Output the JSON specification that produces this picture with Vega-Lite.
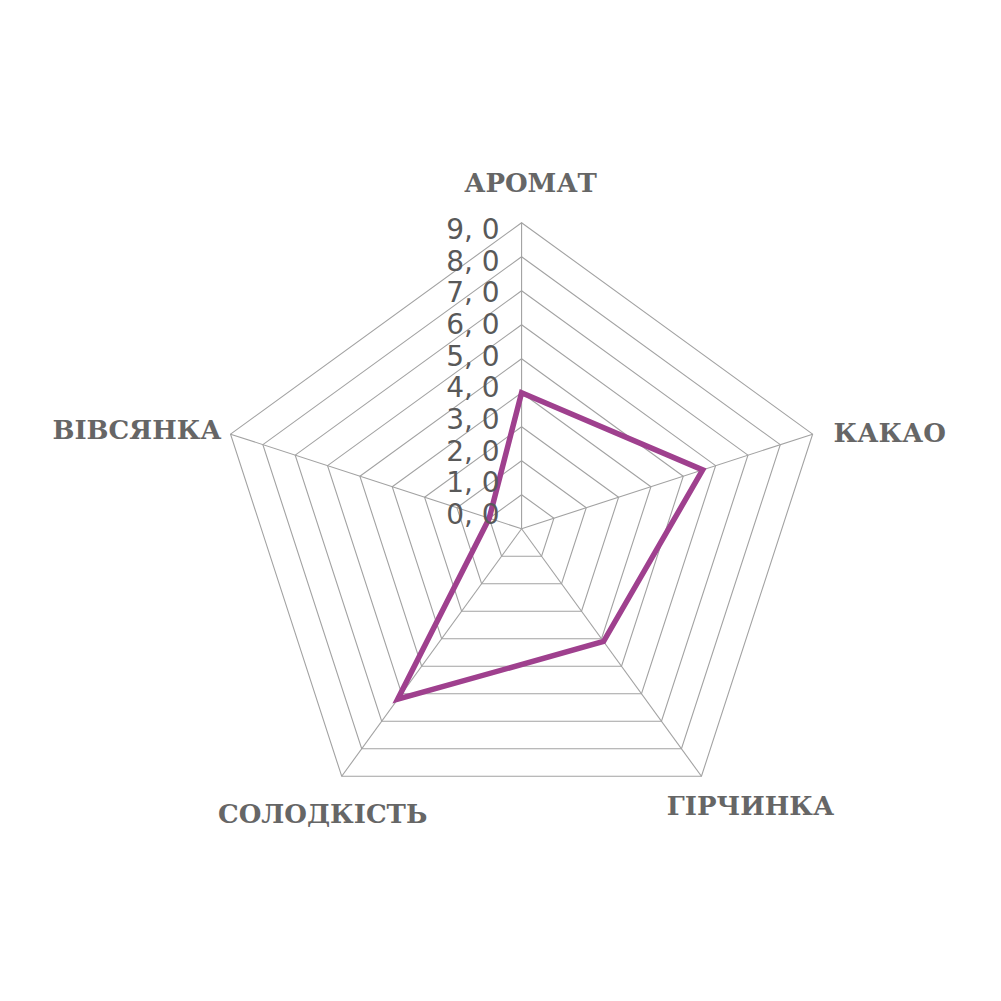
{
  "$schema": "https://vega.github.io/schema/vega-lite/v6.json",
  "width": 1001,
  "height": 1001,
  "autosize": {"type": "fit", "contains": "padding"},
  "padding": 0,
  "background": "white",
  "config": {"view": {"stroke": null}},
  "datasets": {
    "scores": [
      {"name": "АРОМАТ", "k": 0, "value": 4.0},
      {"name": "КАКАО", "k": 1, "value": 5.6},
      {"name": "ГІРЧИНКА", "k": 2, "value": 4.1},
      {"name": "СОЛОДКІСТЬ", "k": 3, "value": 6.2},
      {"name": "ВІВСЯНКА", "k": 4, "value": 1.0}
    ],
    "grid": [
      {"level": 1, "k": [0, 1, 2, 3, 4]},
      {"level": 2, "k": [0, 1, 2, 3, 4]},
      {"level": 3, "k": [0, 1, 2, 3, 4]},
      {"level": 4, "k": [0, 1, 2, 3, 4]},
      {"level": 5, "k": [0, 1, 2, 3, 4]},
      {"level": 6, "k": [0, 1, 2, 3, 4]},
      {"level": 7, "k": [0, 1, 2, 3, 4]},
      {"level": 8, "k": [0, 1, 2, 3, 4]},
      {"level": 9, "k": [0, 1, 2, 3, 4]}
    ],
    "spokes": [
      {"k": 0, "r": [0, 9]},
      {"k": 1, "r": [0, 9]},
      {"k": 2, "r": [0, 9]},
      {"k": 3, "r": [0, 9]},
      {"k": 4, "r": [0, 9]}
    ],
    "ticks": [
      {"level": 0, "label": "0, 0"},
      {"level": 1, "label": "1, 0"},
      {"level": 2, "label": "2, 0"},
      {"level": 3, "label": "3, 0"},
      {"level": 4, "label": "4, 0"},
      {"level": 5, "label": "5, 0"},
      {"level": 6, "label": "6, 0"},
      {"level": 7, "label": "7, 0"},
      {"level": 8, "label": "8, 0"},
      {"level": 9, "label": "9, 0"}
    ]
  },
  "resolve": {"scale": {"y": "independent"}},
  "layer": [
    {
      "layer": [
        {
          "data": {"name": "grid"},
          "transform": [
            {"flatten": ["k"]},
            {"calculate": "datum.level*sin(datum.k*2*PI/5)", "as": "px"},
            {"calculate": "datum.level*cos(datum.k*2*PI/5)", "as": "py"}
          ],
          "mark": {"type": "line", "interpolate": "linear-closed", "stroke": "#a2a2a2", "strokeWidth": 1.1},
          "encoding": {
            "x": {"field": "px", "type": "quantitative", "scale": {"domain": [-15.34, 14.1], "nice": false, "zero": false}, "axis": null},
            "y": {"field": "py", "type": "quantitative", "scale": {"domain": [-13.89, 15.55], "nice": false, "zero": false}, "axis": null},
            "detail": {"field": "level", "type": "nominal"},
            "order": {"field": "k", "type": "quantitative"}
          }
        },
        {
          "data": {"name": "spokes"},
          "transform": [
            {"flatten": ["r"]},
            {"calculate": "datum.r*sin(datum.k*2*PI/5)", "as": "px"},
            {"calculate": "datum.r*cos(datum.k*2*PI/5)", "as": "py"}
          ],
          "mark": {"type": "line", "stroke": "#a2a2a2", "strokeWidth": 1.1},
          "encoding": {
            "x": {"field": "px", "type": "quantitative"},
            "y": {"field": "py", "type": "quantitative"},
            "detail": {"field": "k", "type": "nominal"},
            "order": {"field": "r", "type": "quantitative"}
          }
        },
        {
          "data": {"name": "scores"},
          "transform": [
            {"calculate": "datum.value*sin(datum.k*2*PI/5)", "as": "px"},
            {"calculate": "datum.value*cos(datum.k*2*PI/5)", "as": "py"}
          ],
          "mark": {"type": "line", "interpolate": "linear-closed", "stroke": "#9f408e", "strokeJoin": "miter"},
          "encoding": {
            "x": {"field": "px", "type": "quantitative"},
            "y": {"field": "py", "type": "quantitative"},
            "order": {"field": "k", "type": "quantitative"},
            "strokeWidth": {"value": 5.5}
          }
        },
        {
          "data": {"name": "scores"},
          "transform": [
            {"filter": "datum.name == 'АРОМАТ'"},
            {"calculate": "9*sin(datum.k*2*PI/5)", "as": "vx"},
            {"calculate": "9*cos(datum.k*2*PI/5)", "as": "vy"}
          ],
          "mark": {"type": "text", "font": "DejaVu Serif", "fontWeight": "bold", "fontSize": 26, "fill": "#666666", "align": "center", "baseline": "middle", "dx": 9, "dy": -39},
          "encoding": {
            "x": {"field": "vx", "type": "quantitative"},
            "y": {"field": "vy", "type": "quantitative"},
            "text": {"field": "name", "type": "nominal"}
          }
        },
        {
          "data": {"name": "scores"},
          "transform": [
            {"filter": "datum.name == 'КАКАО'"},
            {"calculate": "9*sin(datum.k*2*PI/5)", "as": "vx"},
            {"calculate": "9*cos(datum.k*2*PI/5)", "as": "vy"}
          ],
          "mark": {"type": "text", "font": "DejaVu Serif", "fontWeight": "bold", "fontSize": 26, "fill": "#666666", "align": "left", "baseline": "middle", "dx": 21, "dy": 0},
          "encoding": {
            "x": {"field": "vx", "type": "quantitative"},
            "y": {"field": "vy", "type": "quantitative"},
            "text": {"field": "name", "type": "nominal"}
          }
        },
        {
          "data": {"name": "scores"},
          "transform": [
            {"filter": "datum.name == 'ГІРЧИНКА'"},
            {"calculate": "9*sin(datum.k*2*PI/5)", "as": "vx"},
            {"calculate": "9*cos(datum.k*2*PI/5)", "as": "vy"}
          ],
          "mark": {"type": "text", "font": "DejaVu Serif", "fontWeight": "bold", "fontSize": 26, "fill": "#666666", "align": "center", "baseline": "middle", "dx": 49, "dy": 31},
          "encoding": {
            "x": {"field": "vx", "type": "quantitative"},
            "y": {"field": "vy", "type": "quantitative"},
            "text": {"field": "name", "type": "nominal"}
          }
        },
        {
          "data": {"name": "scores"},
          "transform": [
            {"filter": "datum.name == 'СОЛОДКІСТЬ'"},
            {"calculate": "9*sin(datum.k*2*PI/5)", "as": "vx"},
            {"calculate": "9*cos(datum.k*2*PI/5)", "as": "vy"}
          ],
          "mark": {"type": "text", "font": "DejaVu Serif", "fontWeight": "bold", "fontSize": 26, "fill": "#666666", "align": "center", "baseline": "middle", "dx": -19, "dy": 39},
          "encoding": {
            "x": {"field": "vx", "type": "quantitative"},
            "y": {"field": "vy", "type": "quantitative"},
            "text": {"field": "name", "type": "nominal"}
          }
        },
        {
          "data": {"name": "scores"},
          "transform": [
            {"filter": "datum.name == 'ВІВСЯНКА'"},
            {"calculate": "9*sin(datum.k*2*PI/5)", "as": "vx"},
            {"calculate": "9*cos(datum.k*2*PI/5)", "as": "vy"}
          ],
          "mark": {"type": "text", "font": "DejaVu Serif", "fontWeight": "bold", "fontSize": 26, "fill": "#666666", "align": "right", "baseline": "middle", "dx": -9, "dy": -3},
          "encoding": {
            "x": {"field": "vx", "type": "quantitative"},
            "y": {"field": "vy", "type": "quantitative"},
            "text": {"field": "name", "type": "nominal"}
          }
        }
      ]
    },
    {
      "data": {"name": "ticks"},
      "transform": [
        {"calculate": "0", "as": "zx"}
      ],
      "mark": {"type": "text", "font": "DejaVu Sans", "fontSize": 28, "fill": "#595959", "align": "right", "baseline": "middle", "dx": -22},
      "encoding": {
        "x": {"field": "zx", "type": "quantitative"},
        "y": {"field": "level", "type": "quantitative", "scale": {"domain": [-15.32, 16.29], "nice": false, "zero": false}, "axis": null},
        "text": {"field": "label", "type": "nominal"}
      }
    }
  ]
}
